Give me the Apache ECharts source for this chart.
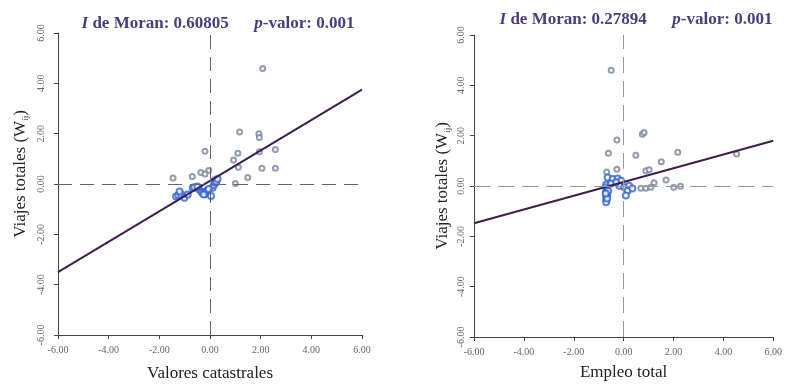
<!DOCTYPE html>
<html><head><meta charset="utf-8">
<script src="https://cdn.jsdelivr.net/npm/echarts@6/dist/echarts.min.js"></script>
<style>html,body{margin:0;padding:0;background:#fff}#c{width:785px;height:387px}</style>
</head><body><div id="c"></div>
<script>
// Left panel: Valores catastrales
const leftOuterX = [2.08,1.17,1.93,1.95,1.95,-0.2,1.1,0.93,2.58,1.12,2.05,2.58,1.49,1.0,-1.46,-0.7,-0.36,-0.05,-0.2,0.17,0.24];
const leftOuterY = [4.59,2.07,2.0,1.85,1.28,1.3,1.22,0.95,1.37,0.67,0.63,0.63,0.26,0.02,0.24,0.3,0.46,0.54,0.4,0.17,0.04];
const leftCoreX = [-1.34,-1.25,-1.14,-1.01,-0.88,-0.68,-0.62,-0.45,-0.35,-0.3,-0.22,-0.2,-0.15,-0.1,0.04,0.1,0.15,0.2,0.25,-1.2,-0.5,0.3,-0.25,-0.05];
const leftCoreY = [-0.5,-0.45,-0.42,-0.55,-0.42,-0.16,-0.13,-0.2,-0.3,-0.35,-0.38,-0.4,-0.3,-0.25,-0.48,-0.15,-0.05,0.05,0.1,-0.3,-0.1,0.2,-0.42,-0.2];
const leftFitX = [-6, 6];
const leftFitY = [-3.5, 3.75];
// Right panel: Empleo total
const rightOuterX = [-0.5,-0.27,0.75,0.82,-0.61,0.49,2.17,1.51,4.53,0.89,1.02,-0.27,-0.68,1.7,1.22,0.69,0.89,1.09,2.01,2.28];
const rightOuterY = [4.6,1.83,2.06,2.13,1.3,1.22,1.34,0.96,1.27,0.61,0.65,0.67,0.56,0.24,0.13,-0.09,-0.09,-0.05,-0.05,-0.01];
const rightCoreX = [-0.64,-0.44,-0.24,-0.11,-0.17,0.03,0.22,0.16,0.09,0.35,-0.7,-0.7,-0.68,-0.7,-0.66,-0.7,-0.69,-0.7,-0.62,-0.66,-0.72,-0.5,-0.3];
const rightCoreY = [0.34,0.28,0.3,0.21,0.01,-0.05,0.01,-0.19,-0.38,-0.1,0.05,-0.05,-0.15,-0.25,-0.35,-0.45,-0.55,-0.65,-0.2,-0.5,-0.3,0.1,0.15];
const rightFitX = [-6, 6];
const rightFitY = [-1.48, 1.8];
const titles = [["0.60805", "0.001"], ["0.27894", "0.001"]];
const xNames = ["Valores catastrales", "Empleo total"];

const zip = (a, b) => a.map((v, i) => [v, b[i]]);
const serif = '"Liberation Serif", "DejaVu Serif", serif';
const titleColor = '#4b3c7e';

function xAxis(idx, name, gap) {
  return {
    gridIndex: idx, type: 'value', min: -6, max: 6, interval: 2,
    name: name, nameLocation: 'middle', nameGap: gap,
    nameTextStyle: { fontFamily: serif, fontSize: 17, color: '#222' },
    axisLine: { show: true, onZero: false, lineStyle: { color: '#444', width: 1 } },
    axisTick: { show: true, length: 4, lineStyle: { color: '#444' } },
    axisLabel: { fontSize: 10, color: '#666', fontFamily: serif, margin: 10,
      formatter: v => v.toFixed(2) },
    splitLine: { show: false }
  };
}
function yAxis(idx, gap, margin, pad) {
  return {
    gridIndex: idx, type: 'value', min: -6, max: 6, interval: 2,
    name: 'Viajes totales (W{s|ij})', nameLocation: 'middle', nameGap: gap, nameRotate: 90,
    nameTextStyle: { fontFamily: serif, fontSize: 17, color: '#222', padding: pad,
      rich: { s: { fontFamily: serif, fontSize: 9, color: '#222', verticalAlign: 'bottom', padding: [9, 0, 0, 0] } } },
    axisLine: { show: true, onZero: false, lineStyle: { color: '#444', width: 1 } },
    axisTick: { show: true, length: 4, lineStyle: { color: '#444' } },
    axisLabel: { rotate: 90, fontSize: 10, color: '#666', fontFamily: serif, margin: margin,
      formatter: v => v.toFixed(2) },
    splitLine: { show: false }
  };
}
function cross(color, dash) {
  return {
    silent: true, symbol: 'none', label: { show: false },
    lineStyle: { color: color, type: dash, width: 1 },
    data: [{ xAxis: 0 }, { yAxis: 0 }]
  };
}
function pts(idx, x, y, color, size) {
  return { type: 'scatter', xAxisIndex: idx, yAxisIndex: idx, data: zip(x, y),
    symbol: 'emptyCircle', symbolSize: size, itemStyle: { color: color, borderColor: color, borderWidth: 1 }, z: 3 };
}
function fit(idx, x, y, extra) {
  const s = { type: 'line', xAxisIndex: idx, yAxisIndex: idx, data: zip(x, y), symbol: 'none',
    lineStyle: { color: '#3d1f4d', width: 2 }, z: 4 };
  if (extra) s.markLine = extra;
  return s;
}
const titleRich = {
  i: { fontFamily: serif, fontSize: 17, fontWeight: 'bold', fontStyle: 'italic', color: titleColor },
  n: { fontFamily: serif, fontSize: 17, fontWeight: 'bold', color: titleColor }
};
function titleText(t) {
  return '{i|I}{n| de Moran: ' + t[0] + '}{n|      }{i|p}{n|-valor: ' + t[1] + '}';
}

const chart = echarts.init(document.getElementById('c'), null, { renderer: 'canvas' });
chart.setOption({
  animation: false,
  title: [
    { text: titleText(titles[0]), left: 213, top: 10, textAlign: 'center', textStyle: { rich: titleRich } },
    { text: titleText(titles[1]), left: 631, top: 6, textAlign: 'center', textStyle: { rich: titleRich } }
  ],
  grid: [
    { left: 58, right: 423, top: 33, bottom: 49 },
    { left: 474, right: 9, top: 35, bottom: 50 }
  ],
  xAxis: [xAxis(0, xNames[0], 30), xAxis(1, xNames[1], 27)],
  yAxis: [yAxis(0, 28, 12, [0, 0, 0, 20]), yAxis(1, 22, 8, [0, 0, 0, 0])],
  series: [
    fit(0, leftFitX, leftFitY, cross('#666', [14, 8])),
    pts(0, leftOuterX, leftOuterY, '#76849a', 5),
    pts(0, leftCoreX, leftCoreY, '#2f63d6', 6),
    fit(1, rightFitX, rightFitY, cross('#999', [16, 8])),
    pts(1, rightOuterX, rightOuterY, '#76849a', 5),
    pts(1, rightCoreX, rightCoreY, '#2f63d6', 6)
  ]
});
</script></body></html>
